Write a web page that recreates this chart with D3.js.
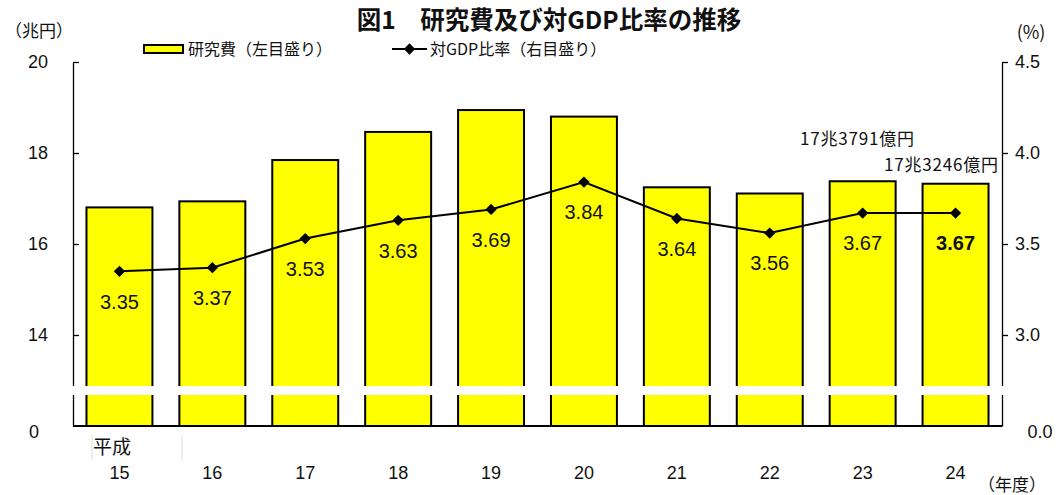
<!DOCTYPE html>
<meta charset="utf-8">
<script src="https://d3js.org/d3.v7.min.js"></script>
<style>
  body { margin: 0; background: #fff; }
  text { font-family: "Liberation Sans", Arial, sans-serif; fill: #111; }
  .jp { font-family: "Noto Sans CJK JP", sans-serif; }
</style>
<div id="chart"></div>
<script>
// data
const years = ["15", "16", "17", "18", "19", "20", "21", "22", "23", "24"];
const rdCost = [16.8042, 16.9376, 17.8452, 18.4631, 18.9438, 18.8001, 17.2463, 17.1100, 17.3791, 17.3246]; // 兆円
const gdpRatio = [3.35, 3.37, 3.53, 3.63, 3.69, 3.84, 3.64, 3.56, 3.67, 3.67]; // %
const leftTicks = [14, 16, 18, 20];
const rightTicks = [3.0, 3.5, 4.0, 4.5];
const notes = [{i: 8, text: "17兆3791億円"}, {i: 9, text: "17兆3246億円"}];

const W = 1057, H = 495;
const plot = {left: 73, right: 1002, top: 62, bottom: 426};

const svg = d3.select("#chart").append("svg")
  .attr("width", W).attr("height", H);

const x = d3.scaleBand()
  .domain(years)
  .range([plot.left, plot.right])
  .paddingInner(0.29)
  .paddingOuter(0.145);

// left axis is broken: bottom is shown as 0
const yL = d3.scaleLinear().domain([12, 20]).range([plot.bottom, plot.top]);
const yR = d3.scaleLinear().domain([2.5, 4.5]).range([plot.bottom, plot.top]);

// title
svg.append("text").attr("class", "jp")
  .attr("x", 549).attr("y", 29)
  .attr("text-anchor", "middle")
  .style("font-size", "24.5px").style("font-weight", "bold")
  .text("図1　研究費及び対GDP比率の推移");

// bars
svg.selectAll("rect.bar")
  .data(rdCost)
  .join("rect")
  .attr("class", "bar")
  .attr("x", (d, i) => x(years[i]))
  .attr("y", d => yL(d))
  .attr("width", x.bandwidth())
  .attr("height", d => plot.bottom - yL(d))
  .attr("fill", "#ffff00")
  .attr("stroke", "#000")
  .attr("stroke-width", 2);

// axes
const axL = svg.append("g")
  .attr("transform", `translate(${plot.left},0)`)
  .call(d3.axisLeft(yL).tickValues(leftTicks).tickSizeInner(-6).tickSizeOuter(0).tickPadding(25));
axL.selectAll("text").attr("x", -35).attr("text-anchor", "middle")
  .style("font-size", "18px").style("font-family", "Liberation Sans, Arial");

const axR = svg.append("g")
  .attr("transform", `translate(${plot.right},0)`)
  .call(d3.axisRight(yR).tickValues(rightTicks).tickFormat(d3.format(".1f")).tickSizeInner(6).tickSizeOuter(0).tickPadding(7));
axR.selectAll("text").style("font-size", "18px").style("font-family", "Liberation Sans, Arial");

[axL, axR].forEach(a => {
  a.select(".domain").attr("stroke", "#000").attr("stroke-width", 1.3);
  a.selectAll(".tick line").attr("stroke", "#000").attr("stroke-width", 1.3);
});

// baseline
svg.append("line")
  .attr("x1", plot.left).attr("x2", plot.right)
  .attr("y1", plot.bottom).attr("y2", plot.bottom)
  .attr("stroke", "#000").attr("stroke-width", 2);

// zero labels below the break
svg.append("text").attr("x", 34).attr("y", 432).attr("dy", "0.35em")
  .attr("text-anchor", "middle").style("font-size", "18px").text("0");
svg.append("text").attr("x", 1040).attr("y", 432).attr("dy", "0.35em")
  .attr("text-anchor", "middle").style("font-size", "18px").text("0.0");

// ratio line
const line = d3.line()
  .x((d, i) => x(years[i]) + x.bandwidth() / 2)
  .y(d => yR(d));
svg.append("path")
  .datum(gdpRatio)
  .attr("d", line)
  .attr("fill", "none")
  .attr("stroke", "#000")
  .attr("stroke-width", 2);

const diamond = d3.symbol().type(d3.symbolSquare).size(64);
svg.selectAll("path.mk")
  .data(gdpRatio)
  .join("path")
  .attr("class", "mk")
  .attr("d", diamond)
  .attr("transform", (d, i) => `translate(${x(years[i]) + x.bandwidth() / 2},${yR(d)}) rotate(45)`)
  .attr("fill", "#000");

svg.selectAll("text.val")
  .data(gdpRatio)
  .join("text")
  .attr("class", "val")
  .attr("x", (d, i) => x(years[i]) + x.bandwidth() / 2)
  .attr("y", d => yR(d) + 30)
  .attr("dy", "0.36em")
  .attr("text-anchor", "middle")
  .style("font-size", "20px")
  .style("font-weight", (d, i) => i === gdpRatio.length - 1 ? "bold" : "normal")
  .text(d => d3.format(".2f")(d));

// break band
svg.append("rect")
  .attr("x", 53).attr("y", 386)
  .attr("width", 955).attr("height", 9)
  .attr("fill", "#fff");

// category labels
svg.selectAll("text.cat")
  .data(years)
  .join("text")
  .attr("class", "cat")
  .attr("x", d => x(d) + x.bandwidth() / 2)
  .attr("y", 473).attr("dy", "0.35em")
  .attr("text-anchor", "middle")
  .style("font-size", "18px")
  .text(d => d);

svg.append("text").attr("class", "jp")
  .attr("x", 93).attr("y", 447).attr("dy", "0.35em")
  .style("font-size", "19px").text("平成");
svg.append("line").attr("x1", 92).attr("x2", 92).attr("y1", 435).attr("y2", 460).attr("stroke", "#ddd");
svg.append("line").attr("x1", 182).attr("x2", 182).attr("y1", 435).attr("y2", 460).attr("stroke", "#ddd");

// unit labels
svg.append("text").attr("class", "jp").attr("x", 5).attr("y", 31).attr("dy", "0.35em")
  .style("font-size", "17px").text("（兆円）");
svg.append("text").attr("class", "jp").attr("x", 1031).attr("y", 33).attr("dy", "0.35em")
  .attr("text-anchor", "middle").style("font-size", "18px").text("(%)");
svg.append("text").attr("class", "jp").attr("x", 978).attr("y", 485).attr("dy", "0.35em")
  .style("font-size", "17px").text("（年度）");

// legend
svg.append("rect").attr("x", 144).attr("y", 45).attr("width", 39).attr("height", 8)
  .attr("fill", "#ffff00").attr("stroke", "#000").attr("stroke-width", 2);
svg.append("text").attr("class", "jp").attr("x", 188).attr("y", 49).attr("dy", "0.35em")
  .style("font-size", "16px").text("研究費（左目盛り）");
svg.append("line").attr("x1", 392).attr("x2", 427).attr("y1", 49).attr("y2", 49)
  .attr("stroke", "#000").attr("stroke-width", 2);
svg.append("path").attr("d", diamond)
  .attr("transform", "translate(409.5,49) rotate(45)").attr("fill", "#000");
svg.append("text").attr("class", "jp").attr("x", 430).attr("y", 49).attr("dy", "0.35em")
  .style("font-size", "16px").text("対GDP比率（右目盛り）");

// amount notes
svg.selectAll("text.note")
  .data(notes)
  .join("text")
  .attr("class", "note jp")
  .attr("x", d => d.i === 8 ? 800 : 884)
  .attr("y", d => d.i === 8 ? 139 : 165)
  .attr("dy", "0.35em")
  .style("font-size", "17px")
  .style("letter-spacing", "0.8px")
  .text(d => d.text);
</script>
